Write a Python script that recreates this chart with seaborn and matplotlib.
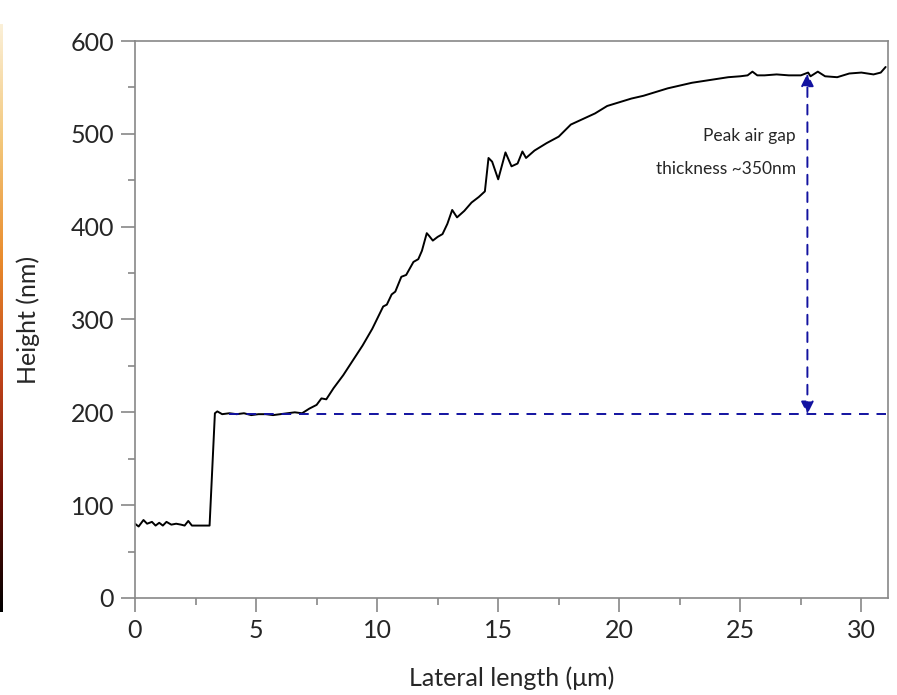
"""AFM height profile across the air-gap step."""

import matplotlib.pyplot as plt
import numpy as np
import pandas as pd
import seaborn as sns
from matplotlib.colors import LinearSegmentedColormap

# profile (lateral position in um, height in nm)
lateral_um = [
    0.0, 0.15, 0.35, 0.5, 0.7, 0.85, 1.0, 1.15, 1.3, 1.5, 1.7, 1.9, 2.05, 2.2,
    2.35, 2.6, 2.9, 3.08, 3.3, 3.4, 3.6, 3.9, 4.2, 4.5, 4.8, 5.1, 5.4, 5.7,
    6.0, 6.3, 6.6, 6.9, 7.2, 7.5, 7.7, 7.9, 8.2, 8.6, 9.0, 9.4, 9.8, 10.1,
    10.25, 10.4, 10.6, 10.75, 11.0, 11.2, 11.5, 11.7, 11.85, 12.05, 12.15,
    12.3, 12.5, 12.7, 12.9, 13.1, 13.3, 13.6, 13.9, 14.2, 14.45, 14.6, 14.75,
    15.0, 15.3, 15.55, 15.8, 16.0, 16.15, 16.5, 17.0, 17.5, 18.0, 18.5, 19.0,
    19.5, 20.0, 20.5, 21.0, 21.5, 22.0, 22.5, 23.0, 23.5, 24.0, 24.5, 25.0,
    25.3, 25.5, 25.7, 26.0, 26.5, 27.0, 27.5, 27.8, 27.9, 28.2, 28.5, 29.0,
    29.5, 30.0, 30.5, 30.8, 31.0,
]
height_nm = [
    80, 77, 84, 80, 82, 78, 81, 78, 82, 79, 80, 79, 78, 83,
    78, 78, 78, 78, 199, 201, 198, 199, 198, 199, 197, 198, 198, 197,
    198, 199, 200, 199, 204, 208, 215, 214, 226, 240, 256, 272, 290, 306,
    314, 316, 327, 330, 346, 348, 362, 365, 374, 393, 390,
    385, 389, 392, 403, 418, 410, 417, 426, 432, 438, 474, 470,
    451, 480, 465, 468, 481, 474, 482, 490, 497, 510, 516, 522,
    530, 534, 538, 541, 545, 549, 552, 555, 557, 559, 561, 562,
    563, 567, 563, 563, 564, 563, 563, 566, 562, 567, 562, 561,
    565, 566, 564, 566, 572,
]

baseline_nm = 198
baseline_span = [3.9, 31.0]
gap_x = 27.77
gap_top_nm = 565
note_lines = ["Peak air gap", "thickness ~350nm"]

sns.set_theme(style="white")
plt.rcParams["font.family"] = ["Lato", "DejaVu Sans"]

fig = plt.figure(figsize=(8.97, 6.95), dpi=100)
ax = fig.add_axes([0.1505, 0.1396, 0.8395, 0.8014])

profile = pd.DataFrame({"x": lateral_um, "h": height_nm})
sns.lineplot(data=profile, x="x", y="h", ax=ax, color="black", lw=1.4)

navy = "#1212a0"
ax.plot(baseline_span, [baseline_nm, baseline_nm], ls=(0, (5, 4)), color=navy, lw=1.4)
ax.annotate(
    "", xy=(gap_x, gap_top_nm), xytext=(gap_x, baseline_nm),
    arrowprops=dict(arrowstyle="<|-|>", color=navy, lw=1.4, ls=(0, (5, 4)),
                    mutation_scale=19, shrinkA=0, shrinkB=0),
)
ax.text(27.3, 498, note_lines[0], ha="right", va="center", fontsize=12.5)
ax.text(27.3, 462, note_lines[1], ha="right", va="center", fontsize=12.5)

ax.set_xlim(0, 31.1)
ax.set_ylim(0, 600)
ax.set_xticks(np.arange(0, 31, 5))
ax.set_xticks(np.arange(2.5, 31, 5), minor=True)
ax.set_yticks(np.arange(0, 601, 100))
ax.set_yticks(np.arange(50, 600, 100), minor=True)
ax.tick_params(which="major", direction="out", length=10, width=1.2,
               color="#888888", labelsize=18, pad=5, bottom=True, left=True)
ax.tick_params(which="minor", direction="out", length=5, width=1.2,
               color="#888888", bottom=True, left=True)
for spine in ax.spines.values():
    spine.set_color("#888888")
    spine.set_linewidth(1.2)
ax.set_xlabel("Lateral length (\u03bcm)", fontsize=18, labelpad=18)
ax.set_ylabel("Height (nm)", fontsize=18, labelpad=22)

# thin colour-scale strip cut off at the left edge of the reference
strip_cmap = LinearSegmentedColormap.from_list(
    "strip", ["#000000", "#6e0f06", "#c0441a", "#e98b2c", "#f3c77a", "#fbf0d8"]
)
strip = fig.add_axes([0.0, 0.12, 0.003, 0.845])
strip.imshow(np.linspace(1, 0, 256)[:, None], aspect="auto", cmap=strip_cmap)
strip.set_axis_off()

fig.savefig("out.png", dpi=100, facecolor="white")
